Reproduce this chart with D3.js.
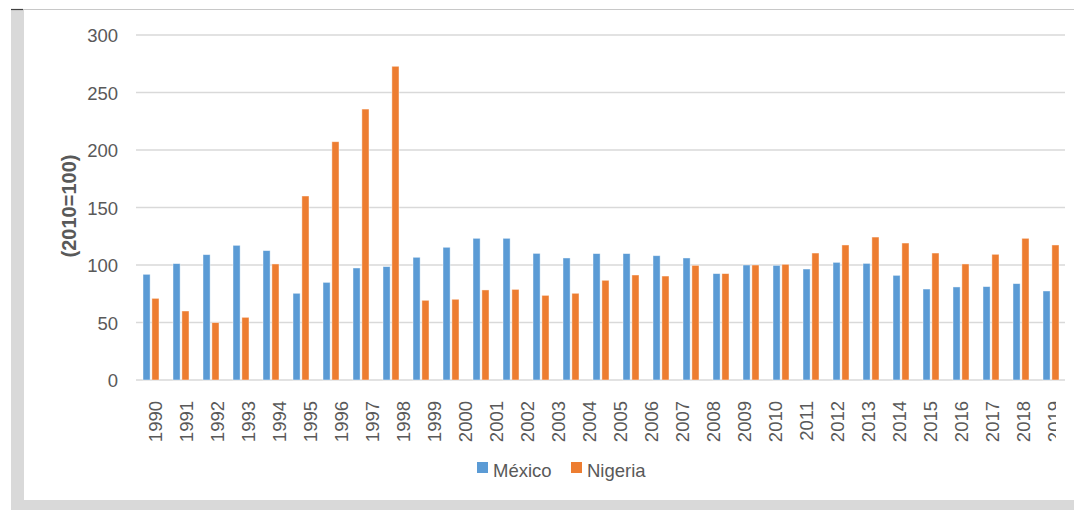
<!DOCTYPE html>
<html>
<head>
<meta charset="utf-8">
<script src="https://cdn.jsdelivr.net/npm/d3@7"></script>
<style>
  html, body { margin: 0; padding: 0; background: #fff; }
  svg { display: block; }
  text { font-family: "Liberation Sans", Arial, sans-serif; }
</style>
</head>
<body>
<svg id="chart" width="1079" height="510"></svg>
<script>
// ---- data ----
const years = [1990,1991,1992,1993,1994,1995,1996,1997,1998,1999,2000,2001,2002,2003,2004,2005,2006,2007,2008,2009,2010,2011,2012,2013,2014,2015,2016,2017,2018,2019,2020];
const mexico = [91.9,101.2,109.0,117.1,112.5,75.4,84.9,97.4,98.6,106.7,115.4,123.2,123.2,110.1,106.1,109.9,109.9,108.1,106.1,92.5,100,99.7,96.5,102.3,101.4,91.0,79.1,80.9,81.2,83.8,77.4];
const nigeria = [71.0,60.0,49.9,54.5,100.9,160.0,207.2,235.6,272.8,69.3,70.2,78.3,78.8,73.6,75.4,86.7,91.3,90.4,99.7,92.5,100,100.6,110.4,117.4,124.3,119.1,110.4,100.9,109.3,123.2,117.4];
const seriesNames = ["México", "Nigeria"];
const seriesColors = ["#5b9bd5", "#ed7d31"];
const yTicks = [0, 50, 100, 150, 200, 250, 300];
const xTickLabels = ["1990","1991","1992","1993","1994","1995","1996","1997","1998","1999","2000","2001","2002","2003","2004","2005","2006","2007","2008","2009","2010","2011","2012","2013","2014","2015","2016","2017","2018","2019"];
const yTitle = "(2010=100)";

// ---- layout ----
const svg = d3.select("#chart");
const W = 1079, H = 510;
const plot = { left: 136, right: 1066, top: 35, bottom: 380 };

// frame
svg.append("rect").attr("x", 0).attr("y", 0).attr("width", W).attr("height", H).attr("fill", "#fff");
svg.append("rect").attr("x", 11).attr("y", 10).attr("width", 13).attr("height", 500).attr("fill", "#d9d9d9");
svg.append("rect").attr("x", 11).attr("y", 500).attr("width", 1063).attr("height", 10).attr("fill", "#d9d9d9");
svg.append("line").attr("x1", 11).attr("x2", 1074).attr("y1", 9.5).attr("y2", 9.5).attr("stroke", "#c8c8c8").attr("stroke-width", 1.2);
svg.append("line").attr("x1", 11).attr("x2", 23).attr("y1", 9.5).attr("y2", 9.5).attr("stroke", "#404040").attr("stroke-width", 1.2);

const data = years.map((yr, i) => ({ year: yr, values: [mexico[i], nigeria[i]] }));

const x0 = d3.scaleBand().domain(years).range([plot.left, plot.right]).paddingInner(0.467).paddingOuter(0.2335);
const x1 = d3.scaleBand().domain(seriesNames).range([0, x0.bandwidth()]).paddingInner(0.2);
const y = d3.scaleLinear().domain([0, 300]).range([plot.bottom, plot.top]);
const color = d3.scaleOrdinal().domain(seriesNames).range(seriesColors);

// gridlines
svg.append("g").selectAll("line").data(yTicks).join("line")
  .attr("x1", plot.left).attr("x2", plot.right - 1)
  .attr("y1", d => y(d)).attr("y2", d => y(d))
  .attr("stroke", "#d9d9d9").attr("stroke-width", 1.4);

// y axis labels
const yAxis = d3.axisLeft(y).tickValues(yTicks).tickSize(0).tickPadding(0);
const gy = svg.append("g").attr("transform", "translate(118,0)").call(yAxis);
gy.select(".domain").remove();
gy.selectAll("text").attr("fill", "#595959").attr("font-size", "18.5px")
  .attr("font-family", "Liberation Sans, Arial, sans-serif").attr("dy", "0.36em");

// y title
svg.append("text")
  .attr("transform", "translate(76,206) rotate(-90)")
  .attr("text-anchor", "middle")
  .attr("fill", "#595959").attr("font-weight", "bold").attr("font-size", "20px")
  .text(yTitle);

// bars
const groups = svg.append("g").selectAll("g").data(data).join("g")
  .attr("transform", d => `translate(${x0(d.year)},0)`);
groups.selectAll("rect").data(d => d.values.map((v, i) => ({ name: seriesNames[i], v })))
  .join("rect")
  .attr("x", d => x1(d.name))
  .attr("width", x1.bandwidth())
  .attr("y", d => y(d.v))
  .attr("height", d => y(0) - y(d.v))
  .attr("fill", d => color(d.name))
  .attr("stroke", "#ffffff").attr("stroke-opacity", 0.55).attr("stroke-width", 0.8);

// x labels (own band scale, as laid out in the picture)
const xl = d3.scaleBand().domain(xTickLabels).range([plot.left, plot.right]);
svg.append("clipPath").attr("id", "xclip").append("rect")
  .attr("x", 0).attr("y", 385).attr("width", 1056).attr("height", 70);
const xAxis = d3.axisBottom(xl).tickSize(0).tickPadding(0);
const gx = svg.append("g").attr("clip-path", "url(#xclip)")
  .append("g").attr("transform", "translate(4,0)").call(xAxis);
gx.select(".domain").remove();
gx.selectAll(".tick text")
  .attr("fill", "#595959").attr("font-size", "18.5px")
  .attr("font-family", "Liberation Sans, Arial, sans-serif")
  .attr("text-anchor", "end")
  .attr("transform", "rotate(-90)")
  .attr("x", -401).attr("y", 0).attr("dy", "0.36em");

// legend
const legend = svg.append("g");
const legendX = [477, 571];
seriesNames.forEach((n, i) => {
  legend.append("rect").attr("x", legendX[i]).attr("y", 462).attr("width", 11).attr("height", 11).attr("fill", color(n));
  legend.append("text").attr("x", legendX[i] + 16).attr("y", 477)
    .attr("fill", "#595959").attr("font-size", "18.5px").text(n);
});
</script>
</body>
</html>
